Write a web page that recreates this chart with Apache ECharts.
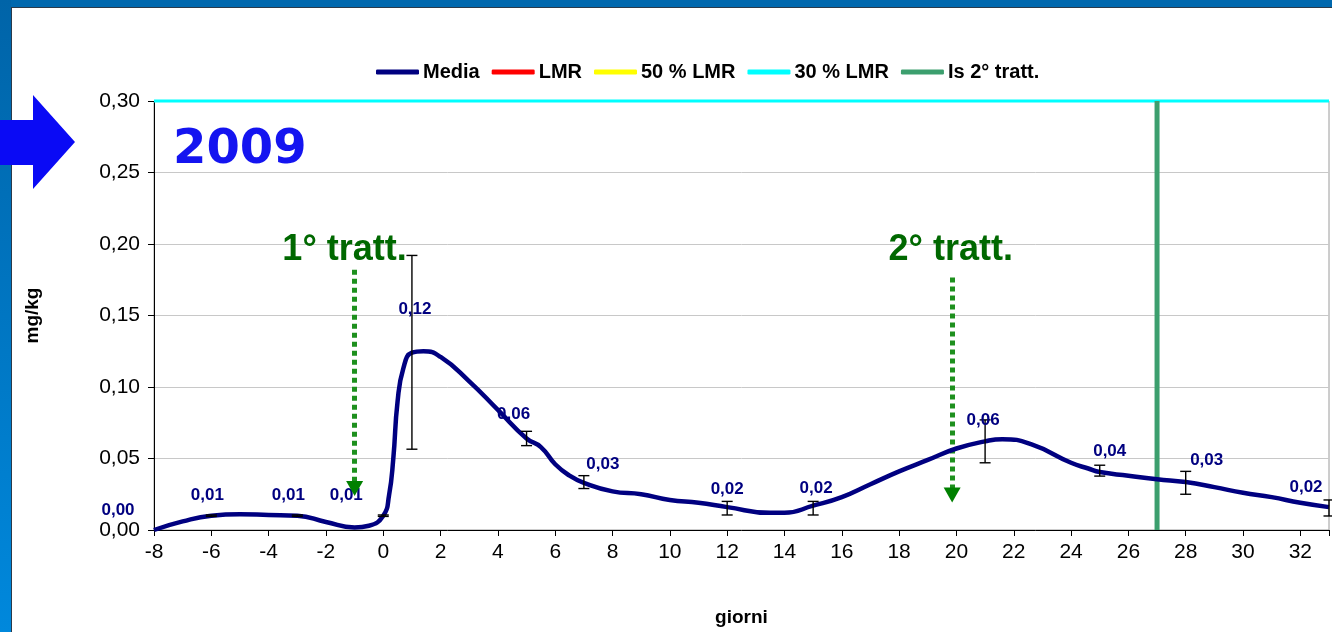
<!DOCTYPE html>
<html>
<head>
<meta charset="utf-8">
<script src="https://cdn.jsdelivr.net/npm/echarts@6/dist/echarts.min.js"></script>
<style>
html, body { margin: 0; padding: 0; background: #fff; }
#chart { width: 1332px; height: 632px; }
</style>
</head>
<body>
<div id="chart"></div>
<script>
// curve of the mean residue
var days  = [-8, -7, -6, -5, -4, -3, -2, -1, -0.5, 0, 0.2, 0.35, 0.5, 0.7, 1, 1.4, 2, 3, 4, 5, 5.5, 6, 6.5, 7, 8, 9, 10, 11, 12, 13.5, 14, 15, 16, 17, 18, 19, 20, 21, 21.6, 22.6, 24, 24.6, 25, 26, 27, 28, 29, 30, 31, 32, 33]
var media = [0, 0.006, 0.010, 0.011, 0.0105, 0.010, 0.0056, 0.0018, 0.003, 0.010, 0.024, 0.050, 0.090, 0.113, 0.124, 0.125, 0.121, 0.104, 0.084, 0.064, 0.058, 0.046, 0.038, 0.033, 0.027, 0.025, 0.021, 0.019, 0.016, 0.012, 0.012, 0.017, 0.023, 0.032, 0.041, 0.049, 0.057, 0.062, 0.0635, 0.060, 0.047, 0.043, 0.0405, 0.038, 0.0355, 0.0335, 0.030, 0.026, 0.023, 0.019, 0.016]

// sampling days that carry a value label
var labelDays = [-8, -6, -3, 0, 1, 5, 7, 12, 15, 21, 25, 28, 33]

// error bars
var errDays = [-6, -3, 0, 1, 5, 7, 12, 15, 21, 25, 28, 33]
var errLow  = [0.0095, 0.0095, 0.0095, 0.0565, 0.059, 0.029, 0.0105, 0.0105, 0.047, 0.0377, 0.025, 0.0098]
var errHigh = [0.0105, 0.0105, 0.0105, 0.192, 0.069, 0.038, 0.020, 0.020, 0.077, 0.0453, 0.041, 0.021]

// limits
var lmr = 1.0
var lmr50 = 0.5
var lmr30 = 0.3
var dayStart = -8
var dayEnd = 33
var is2Day = 27

// treatment arrows
var trattNames = ['1° tratt.', '2° tratt.']
var trattDays = [-1, 19.85]
var trattTop = [0.182, 0.1766]
var trattTip = [0.029, 0.0244]
var trattTextDays = [-1.35, 19.8]
var trattTextVal = 0.196

// label offsets (px) from each labelled point
var labelShift = {
    '-8': [-36, -20], '-6': [-4, -20], '-3': [-9, -20], '0': [-37, -20],
    '1': [3, -43], '5': [-13, -24], '7': [19, -18], '12': [0, -18],
    '15': [3, -17], '21': [-2, -21], '25': [10, -21], '28': [21, -22], '33': [-23, -20]
}

function comma(v, d) { return v.toFixed(d).replace('.', ',') }

var mediaData = []
for (var i = 0; i < days.length; i++) mediaData.push([days[i], media[i]])

var labelData = []
for (var i = 0; i < labelDays.length; i++) {
    var k = days.indexOf(labelDays[i])
    labelData.push({
        value: [days[k], media[k]],
        label: { offset: labelShift[String(labelDays[i])] }
    })
}

var errData = []
for (var i = 0; i < errDays.length; i++) errData.push([errDays[i], errLow[i], errHigh[i]])

var arrowLines = []
var arrowHeads = []
var arrowTexts = []
for (var i = 0; i < trattNames.length; i++) {
    arrowLines.push([{ coord: [trattDays[i], trattTop[i]] }, { coord: [trattDays[i], trattTip[i]] }])
    arrowHeads.push([trattDays[i], trattTip[i]])
    arrowTexts.push({ coord: [trattTextDays[i], trattTextVal], value: trattNames[i] })
}

var font = 'Liberation Sans, Arial, sans-serif'
var navy = '#000080'

var option = {
    animation: false,
    backgroundColor: '#ffffff',
    textStyle: { fontFamily: font },
    grid: { left: 154, right: 3, top: 101, bottom: 101, show: true, borderColor: '#9a9a9a', borderWidth: 1, backgroundColor: '#fff' },
    legend: {
        left: 371, top: 57,
        itemWidth: 43, itemHeight: 5, itemGap: 12,
        icon: 'roundRect',
        data: ['Media', 'LMR', '50 % LMR', '30 % LMR', 'Is 2° tratt.'],
        textStyle: { fontFamily: font, fontWeight: 'bold', fontSize: 20, color: '#000', padding: [0, 0, 0, -1] }
    },
    xAxis: {
        type: 'value', min: dayStart, max: dayEnd, interval: 2,
        name: 'giorni', nameLocation: 'middle', nameGap: 78,
        nameTextStyle: { fontFamily: font, fontWeight: 'bold', fontSize: 19, color: '#000' },
        axisLine: { onZero: false, lineStyle: { color: '#000', width: 1 } },
        axisTick: { length: 6, lineStyle: { color: '#000' } },
        axisLabel: {
            fontSize: 21, color: '#000', margin: 12,
            formatter: function (v) { return v % 2 === 0 ? String(v) : '' }
        },
        splitLine: { show: false }
    },
    yAxis: {
        type: 'value', min: 0, max: 0.30, interval: 0.05,
        name: 'mg/kg', nameLocation: 'middle', nameGap: 112, nameRotate: 90,
        nameTextStyle: { fontFamily: font, fontWeight: 'bold', fontSize: 19, color: '#000' },
        axisLine: { show: true, onZero: false, lineStyle: { color: '#000', width: 1 } },
        axisTick: { show: true, length: 6, lineStyle: { color: '#000' } },
        axisLabel: { fontSize: 21, color: '#000', margin: 14, formatter: function (v) { return comma(v, 2) } },
        splitLine: { lineStyle: { color: '#c8c8c8', width: 1 } }
    },
    series: [
        {
            name: 'LMR', type: 'line', color: '#ff0000', symbol: 'none',
            lineStyle: { width: 3 }, data: [[dayStart, lmr], [dayEnd, lmr]]
        },
        {
            name: '50 % LMR', type: 'line', color: '#ffff00', symbol: 'none',
            lineStyle: { width: 3 }, data: [[dayStart, lmr50], [dayEnd, lmr50]]
        },
        {
            name: '30 % LMR', type: 'line', color: '#00ffff', symbol: 'none', clip: false, z: 4,
            lineStyle: { width: 3 }, data: [[dayStart, lmr30], [dayEnd, lmr30]]
        },
        {
            name: 'Is 2° tratt.', type: 'line', color: '#3c9f6e', symbol: 'none', z: 4,
            lineStyle: { width: 5 }, data: [[is2Day, 0], [is2Day, lmr30]]
        },
        {
            name: 'Media', type: 'line', color: navy, symbol: 'none',
            smooth: 0.5, z: 5,
            lineStyle: { width: 4.5, color: navy }, data: mediaData
        },
        {
            name: 'err', type: 'custom', z: 6,
            renderItem: function (params, api) {
                var x = api.value(0)
                var lo = api.coord([x, api.value(1)])
                var hi = api.coord([x, api.value(2)])
                var w = 5.5
                var st = { stroke: '#000', lineWidth: 1.4 }
                return {
                    type: 'group', children: [
                        { type: 'line', shape: { x1: hi[0], y1: hi[1], x2: lo[0], y2: lo[1] }, style: st },
                        { type: 'line', shape: { x1: hi[0] - w, y1: hi[1], x2: hi[0] + w, y2: hi[1] }, style: st },
                        { type: 'line', shape: { x1: lo[0] - w, y1: lo[1], x2: lo[0] + w, y2: lo[1] }, style: st }
                    ]
                }
            },
            data: errData
        },
        {
            name: 'heads', type: 'scatter', symbol: 'triangle', symbolRotate: 180,
            symbolSize: [17, 15], z: 8, silent: true,
            itemStyle: { color: '#008000', opacity: 1 },
            data: arrowHeads
        },
        {
            name: 'labels', type: 'scatter', symbolSize: 0, z: 7, silent: true,
            itemStyle: { opacity: 1 },
            label: {
                show: true, position: 'inside', color: navy, fontFamily: font,
                fontWeight: 'bold', fontSize: 17,
                formatter: function (p) { return comma(p.value[1], 2) }
            },
            data: labelData,
            markLine: {
                silent: true, symbol: 'none',
                label: { show: false },
                lineStyle: { color: '#1e901e', width: 5, type: [5, 4], cap: 'butt', opacity: 1 },
                emphasis: { disabled: true },
                data: arrowLines
            },
            markPoint: {
                silent: true, symbol: 'circle', symbolSize: 0,
                itemStyle: { opacity: 1 },
                label: {
                    show: true, position: 'inside', color: '#006800', fontFamily: font,
                    fontWeight: 'bold', fontSize: 36,
                    formatter: function (p) { return p.value }
                },
                data: arrowTexts
            }
        }
    ],
    graphic: [
        { type: 'rect', left: 0, top: 0, shape: { width: 1332, height: 7 }, style: { fill: '#0068ae' }, z: 10 },
        { type: 'rect', left: 0, top: 7, shape: { width: 1332, height: 1 }, style: { fill: '#2a3a4a' }, z: 10 },
        {
            type: 'rect', left: 0, top: 0, shape: { width: 11, height: 632 }, z: 10,
            style: { fill: new echarts.graphic.LinearGradient(0, 0, 0, 1, [{ offset: 0, color: '#0064a8' }, { offset: 1, color: '#0088dc' }]) }
        },
        { type: 'rect', left: 11, top: 7, shape: { width: 1, height: 625 }, style: { fill: '#2a3a4a' }, z: 10 },
        {
            type: 'polygon', z: 11,
            shape: { points: [[0, 120], [33, 120], [33, 95], [75, 142], [33, 189], [33, 165], [0, 165]] },
            style: { fill: '#0a0af5' }
        },
        {
            type: 'text', left: 173, top: 127, z: 11,
            style: { text: '2009', fill: '#1414f0', font: 'bold 48px "DejaVu Sans", Verdana, sans-serif' }
        }
    ]
}

var chart = echarts.init(document.getElementById('chart'))
chart.setOption(option)
</script>
</body>
</html>
